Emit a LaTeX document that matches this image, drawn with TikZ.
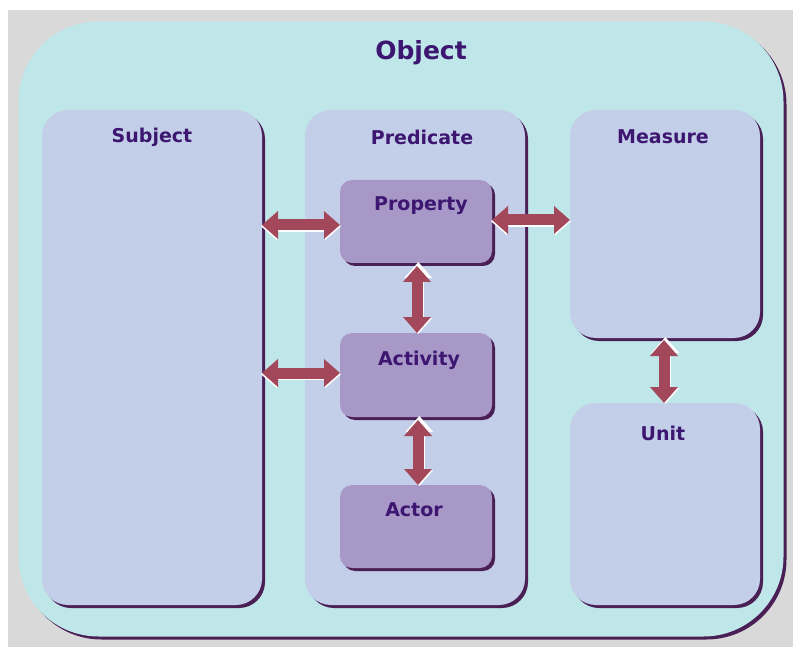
\documentclass[tikz,border=0pt]{standalone}
\usepackage{fontspec}
\setmainfont{DejaVu Sans}
\usetikzlibrary{arrows.meta,shadows}
\definecolor{pagegrey}{HTML}{D9D9D9}
\definecolor{objfill}{HTML}{BFE6E8}
\definecolor{boxfill}{HTML}{C3CEE8}
\definecolor{innerfill}{HTML}{A898C8}
\definecolor{edgecol}{HTML}{4A1F55}
\definecolor{arrowcol}{HTML}{A3475A}
\definecolor{labelcol}{HTML}{3C1670}
\tikzset{
  every node/.style={inner sep=0pt, outer sep=0pt},
  outerbox/.style={rectangle, rounded corners=80pt, fill=objfill,
    drop shadow={shadow xshift=3pt, shadow yshift=-3pt, fill=edgecol, opacity=1}},
  groupbox/.style={rectangle, rounded corners=26pt, fill=boxfill,
    drop shadow={shadow xshift=3pt, shadow yshift=-3pt, fill=edgecol, opacity=1}},
  itembox/.style={rectangle, rounded corners=12pt, fill=innerfill,
    minimum width=152pt, minimum height=84pt,
    drop shadow={shadow xshift=3pt, shadow yshift=-3pt, fill=edgecol, opacity=1}},
  title/.style={text=labelcol, font=\bfseries\fontsize{19}{23}\selectfont},
  bigtitle/.style={text=labelcol, font=\bfseries\fontsize{25}{30}\selectfont},
  linkbase/.style={line width=11pt,
    {Triangle[width=27pt,length=16pt]}-{Triangle[width=27pt,length=16pt]}},
  linkglow/.style={linkbase, draw=white, shorten <=-1pt, shorten >=-1pt},
  link/.style={linkbase, draw=arrowcol},
}
\begin{document}
\begin{tikzpicture}[x=1pt,y=-1pt]
  % page and grey backdrop
  \useasboundingbox (0,0) rectangle (793,647);
  \fill[white] (0,0) rectangle (793,647);
  \fill[pagegrey] (8,10) rectangle (793,647);

  % outer frame
  \node[outerbox, minimum width=765pt, minimum height=615pt] (obj) at (401,329) {};
  \node[bigtitle] (objt) at (421,53) {Object};

  % column groups
  \node[groupbox, minimum width=220pt, minimum height=495pt] (subj) at (152,357.5) {};
  \node[title] (subjt) at (152,137) {Subject};
  \node[groupbox, minimum width=220pt, minimum height=495pt] (pred) at (415,357.5) {};
  \node[title] (predt) at (422,137) {Predicate};
  \node[groupbox, minimum width=190pt, minimum height=228pt] (meas) at (665,224) {};
  \node[title] (meast) at (663,137) {Measure};
  \node[groupbox, minimum width=190pt, minimum height=202pt] (unit) at (665,504) {};
  \node[title] (unitt) at (663,433) {Unit};

  % predicate members
  \node[itembox, minimum height=83pt] (prop) at (416,221.5) {};
  \node[title] (propt) at (421,206) {Property};
  \node[itembox] (act) at (416,375) {};
  \node[title] (actt) at (419,360) {Activity};
  \node[itembox, minimum height=83pt] (actor) at (416,526.5) {};
  \node[title] (actort) at (414,510) {Actor};

  % connectors: white rim first, then the arrow body
  \begin{scope}[shift={(1.3pt,-1.3pt)}]
    \draw[linkglow] (subj.east |- 0,225) -- (prop.west |- 0,225);
    \draw[linkglow] (subj.east |- 0,373) -- (act.west |- 0,373);
    \draw[linkglow] (prop.east |- 0,220) -- (meas.west |- 0,220);
    \draw[linkglow] (prop.south -| 417,0) -- (act.north -| 417,0);
    \draw[linkglow] (act.south -| 418,0) -- (actor.north -| 418,0);
    \draw[linkglow] (meas.south -| 664,0) -- (unit.north -| 664,0);
  \end{scope}
  \draw[link] (subj.east |- 0,225) -- (prop.west |- 0,225);
  \draw[link] (subj.east |- 0,373) -- (act.west |- 0,373);
  \draw[link] (prop.east |- 0,220) -- (meas.west |- 0,220);
  \draw[link] ([yshift=-3pt]prop.south -| 417,0) -- (act.north -| 417,0);
  \draw[link] ([yshift=-3pt]act.south -| 418,0) -- (actor.north -| 418,0);
  \draw[link] ([yshift=-2pt]meas.south -| 664,0) -- (unit.north -| 664,0);
\end{tikzpicture}
\end{document}
